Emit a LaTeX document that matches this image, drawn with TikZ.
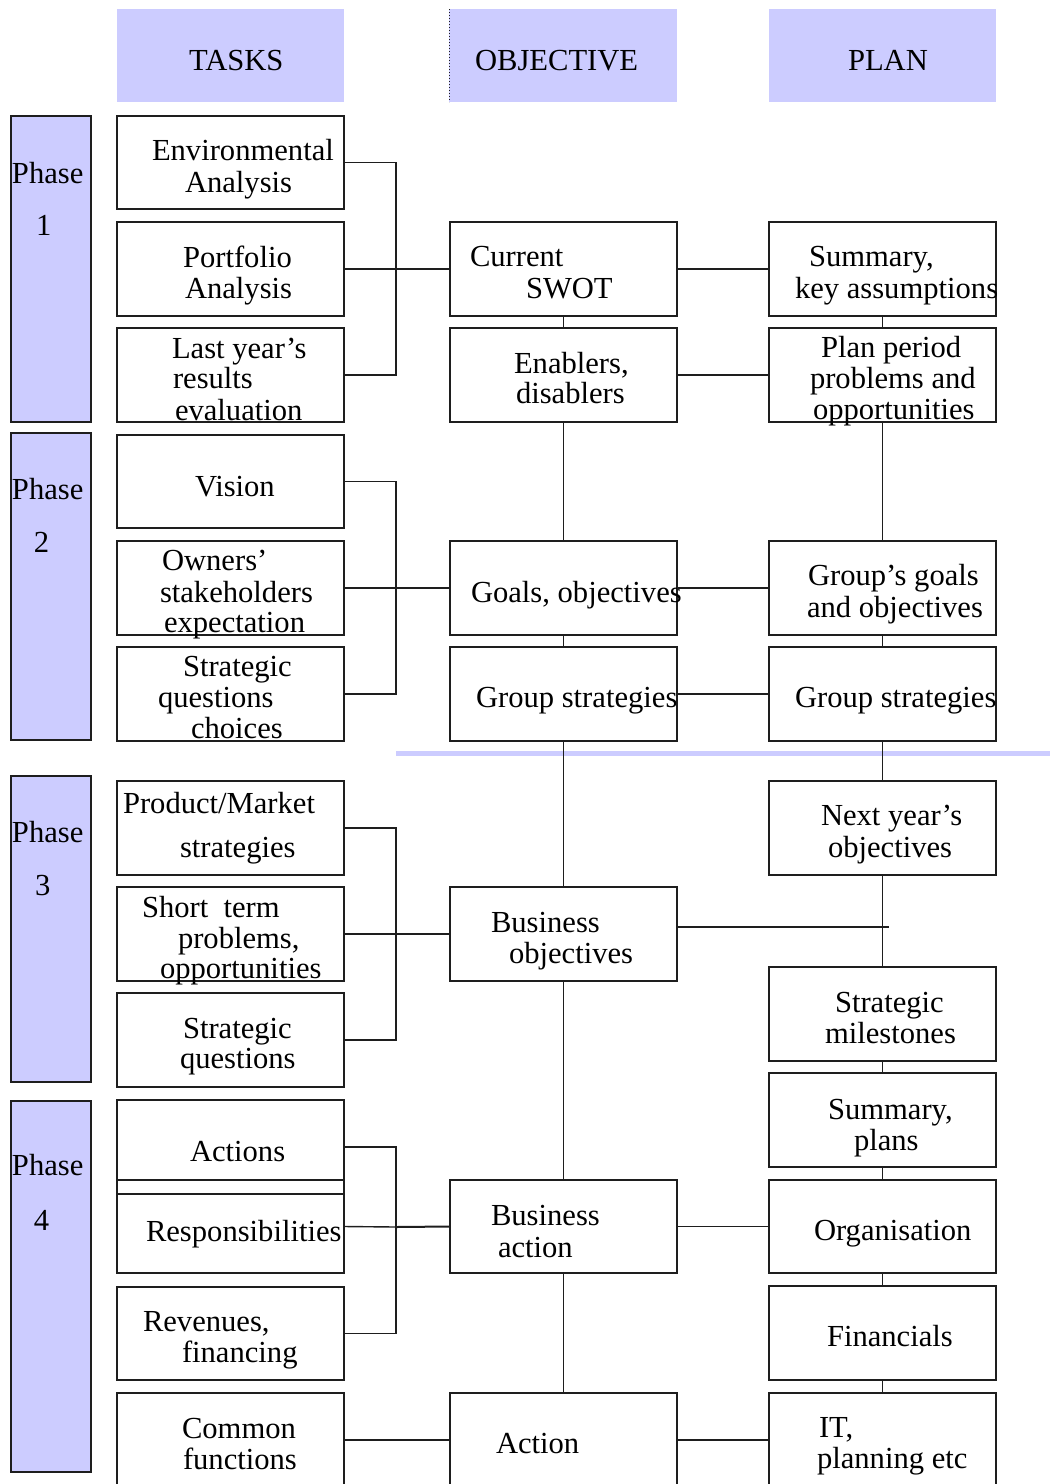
\documentclass[tikz,border=0pt]{standalone}
\usepackage{fontspec}
\setmainfont{Liberation Serif}
\definecolor{lav}{HTML}{CCCCFF}
\definecolor{ink}{HTML}{1E1E1E}
\begin{document}
\begin{tikzpicture}[x=1pt,y=-1pt,
  box/.style={draw=ink,line width=1.4pt,anchor=north west,inner sep=0pt,outer sep=0pt,minimum width=227pt,minimum height=94pt},
  head/.style={fill=lav,anchor=north west,inner sep=0pt,outer sep=0pt,minimum width=227pt,minimum height=93pt},
  phasebox/.style={fill=lav,draw=ink,line width=1.4pt,anchor=north west,inner sep=0pt,outer sep=0pt,minimum width=80pt},
  txt/.style={anchor=base west,inner sep=0pt,outer sep=0pt,font=\fontsize{30.6}{32}\selectfont},
  link/.style={draw=ink,line width=1.4pt},
  feed/.style={draw=ink,line width=2pt},
  divider/.style={draw=lav,line width=5pt}]
\useasboundingbox (0,0) rectangle (1050,1484);

% column headers
\node[head] (hTasks) at (117,9) {};
\node[head,minimum width=228pt] (hObj) at (449,9) {};
\node[head] (hPlan) at (769,9) {};
\draw[ink,dotted,line width=1pt] (hObj.north west) -- (hObj.south west);
\node[txt] (lTasks) at (189,70) {TASKS};
\node[txt] (lObj) at (475,70) {OBJECTIVE};
\node[txt] (lPlan) at (848,70) {PLAN};

% phase bars
\node[phasebox,minimum height=306pt] (ph1) at (11,116) {};
\node[phasebox,minimum height=307pt] (ph2) at (11,433) {};
\node[phasebox,minimum height=306pt] (ph3) at (11,776) {};
\node[phasebox,minimum height=371pt] (ph4) at (11,1101) {};
\node[txt] (ph1a) at (12,183) {Phase};  \node[txt] (ph1b) at (36,235) {1};
\node[txt] (ph2a) at (12,499) {Phase};  \node[txt] (ph2b) at (34,552) {2};
\node[txt] (ph3a) at (12,842) {Phase};  \node[txt] (ph3b) at (35,895) {3};
\node[txt] (ph4a) at (12,1175) {Phase}; \node[txt] (ph4b) at (34,1230) {4};

% task boxes
\node[box,minimum height=93pt] (t1) at (117,116) {};
\node[box] (t2) at (117,222) {};
\node[box] (t3) at (117,328) {};
\node[box,minimum height=93pt] (t4) at (117,435) {};
\node[box] (t5) at (117,541) {};
\node[box] (t6) at (117,647) {};
\node[box] (t7) at (117,781) {};
\node[box] (t8) at (117,887) {};
\node[box] (t9) at (117,993) {};
\node[box] (t10) at (117,1100) {};
\node[box,minimum height=93pt] (t11) at (117,1180) {};
\node[box,minimum height=93pt] (t12) at (117,1287) {};
\node[box] (t13) at (117,1393) {};

\node[txt] (x1a) at (152,160) {Environmental};
\node[txt] (x1b) at (185,192) {Analysis};
\node[txt] (x2a) at (183,267) {Portfolio};
\node[txt] (x2b) at (185,298) {Analysis};
\node[txt] (x3a) at (172,358) {Last year’s};
\node[txt] (x3b) at (173,388) {results};
\node[txt] (x3c) at (175,420) {evaluation};
\node[txt] (x4a) at (195,496) {Vision};
\node[txt] (x5a) at (162,570) {Owners’};
\node[txt] (x5b) at (160,602) {stakeholders};
\node[txt] (x5c) at (164,632) {expectation};
\node[txt] (x6a) at (183,676) {Strategic};
\node[txt] (x6b) at (158,707) {questions};
\node[txt] (x6c) at (191,738) {choices};
\node[txt] (x7a) at (123,813) {Product/Market};
\node[txt] (x7b) at (180,857) {strategies};
\node[txt] (x8a) at (142,917) {Short\ \ term};
\node[txt] (x8b) at (178,948) {problems,};
\node[txt] (x8c) at (160,978) {opportunities};
\node[txt] (x9a) at (183,1038) {Strategic};
\node[txt] (x9b) at (180,1068) {questions};
\node[txt] (x10a) at (190,1161) {Actions};
\node[txt] (x11a) at (146,1241) {Responsibilities};
\node[txt] (x12a) at (143,1331) {Revenues,};
\node[txt] (x12b) at (182,1362) {financing};
\node[txt] (x13a) at (182,1438) {Common};
\node[txt] (x13b) at (183,1469) {functions};

% objective boxes
\node[box] (o1) at (450,222) {};
\node[box] (o2) at (450,328) {};
\node[box] (o3) at (450,541) {};
\node[box] (o4) at (450,647) {};
\node[box] (o5) at (450,887) {};
\node[box,minimum height=93pt] (o6) at (450,1180) {};
\node[box] (o7) at (450,1393) {};

\node[txt] (y1a) at (470,266) {Current};
\node[txt] (y1b) at (526,298) {SWOT};
\node[txt] (y2a) at (514,373) {Enablers,};
\node[txt] (y2b) at (516,403) {disablers};
\node[txt] (y3a) at (471,602) {Goals, objectives};
\node[txt] (y4a) at (476,707) {Group strategies};
\node[txt] (y5a) at (491,932) {Business};
\node[txt] (y5b) at (509,963) {objectives};
\node[txt] (y6a) at (491,1225) {Business};
\node[txt] (y6b) at (498,1257) {action};
\node[txt] (y7a) at (496,1453) {Action};

% plan boxes
\node[box] (p1) at (769,222) {};
\node[box] (p2) at (769,328) {};
\node[box] (p3) at (769,541) {};
\node[box] (p4) at (769,647) {};
\node[box] (p5) at (769,781) {};
\node[box] (p6) at (769,967) {};
\node[box] (p7) at (769,1073) {};
\node[box,minimum height=93pt] (p8) at (769,1180) {};
\node[box] (p9) at (769,1286) {};
\node[box] (p10) at (769,1393) {};

\node[txt] (z1a) at (809,266) {Summary,};
\node[txt] (z1b) at (795,298) {key assumptions};
\node[txt] (z2a) at (821,357) {Plan period};
\node[txt] (z2b) at (810,388) {problems and};
\node[txt] (z2c) at (813,419) {opportunities};
\node[txt] (z3a) at (808,585) {Group’s goals};
\node[txt] (z3b) at (807,617) {and objectives};
\node[txt] (z4a) at (795,707) {Group strategies};
\node[txt] (z5a) at (821,825) {Next year’s};
\node[txt] (z5b) at (828,857) {objectives};
\node[txt] (z6a) at (835,1012) {Strategic};
\node[txt] (z6b) at (825,1043) {milestones};
\node[txt] (z7a) at (828,1119) {Summary,};
\node[txt] (z7b) at (854,1150) {plans};
\node[txt] (z8a) at (814,1240) {Organisation};
\node[txt] (z9a) at (827,1346) {Financials};
\node[txt] (z10a) at (819,1437) {IT,};
\node[txt] (z10b) at (817,1468) {planning etc};

% phase divider
\coordinate (divL) at (396,753.5);
\coordinate (divR) at (1050,753.5);
\draw[divider] (divL) -- (divR);

% task brackets into the objective column
\coordinate (k1) at (396,269);
\coordinate (k2) at (396,588);
\coordinate (k3) at (396,934);
\coordinate (k4) at (396,1227);
\draw[link] (t1.east) -| (k1) |- (t3.east);
\draw[link] (t2.east) -- (k1);
\draw[feed] (k1) -- (o1.west);
\draw[link] (t4.east) -| (k2) |- (t6.east);
\draw[link] (t5.east) -- (k2);
\draw[feed] (k2) -- (o3.west);
\draw[link] (t7.east) -| (k3) |- (t9.east);
\draw[link] (t8.east) -- (k3);
\draw[feed] (k3) -- (o5.west);
\draw[link] (t10.east) -| (k4) |- (t12.east);
\draw[link] (t11.east) -- (k4);
\draw[feed] (k4) -- (o6.west);
\draw[link] (t13.east) -- (o7.west);

% objective column spine
\draw[link] (o1.south) -- (o2.north);
\draw[link] (o2.south) -- (o3.north);
\draw[link] (o3.south) -- (o4.north);
\draw[link] (o4.south) -- (o5.north);
\draw[link] (o5.south) -- (o6.north);
\draw[link] (o6.south) -- (o7.north);

% plan column spine
\draw[link] (p1.south) -- (p2.north);
\draw[link] (p2.south) -- (p3.north);
\draw[link] (p3.south) -- (p4.north);
\draw[link] (p4.south) -- (p5.north);
\draw[link] (p5.south) -- (p6.north);
\draw[link] (p6.south) -- (p7.north);
\draw[link] (p7.south) -- (p8.north);
\draw[link] (p8.south) -- (p9.north);
\draw[link] (p9.south) -- (p10.north);

% objective to plan links
\draw[link] (o1.east) -- (p1.west);
\draw[link] (o2.east) -- (p2.west);
\draw[link] (o3.east) -- (p3.west);
\draw[link] (o4.east) -- (p4.west);
\coordinate (boEnd) at (889,927);
\draw[link] ([yshift=7pt]o5.east) -- (boEnd);
\draw[link] (o6.east) -- (p8.west);
\draw[link] (o7.east) -- (p10.west);
\end{tikzpicture}
\end{document}
